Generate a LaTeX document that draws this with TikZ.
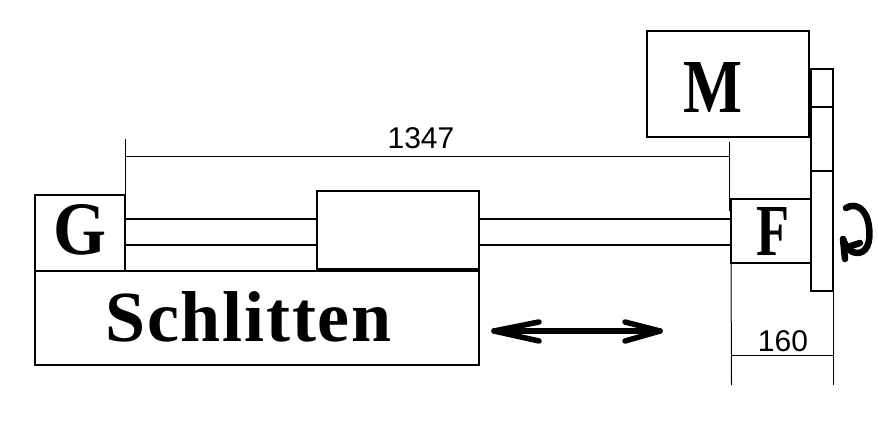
\documentclass[tikz,border=0pt]{standalone}
\usepackage{fontspec}
\setmainfont{Liberation Sans}
\newfontfamily\partfont[LetterSpace=2.5]{Liberation Serif Bold}
\tikzset{
  partbox/.style={draw,line width=2pt,inner sep=0pt,outer sep=0pt},
  partname/.style={inner sep=0pt,font=\fontsize{72}{72}\partfont},
  rodline/.style={line width=2pt},
  dimline/.style={line width=1pt},
  dimtext/.style={inner sep=0pt,font=\fontsize{30}{30}\selectfont},
  handline/.style={line width=5.5pt,line cap=round,line join=round}
}
\begin{document}
\begin{tikzpicture}[x=1pt,y=-1pt]
\useasboundingbox (0,0) rectangle (878,428);
% boxes
\node[partbox,minimum width=162,minimum height=105.5] (motor) at (728,84) {};
\node[partbox,minimum width=22,minimum height=222] (disc) at (822,180) {};
\node[partbox,minimum width=80,minimum height=64] (flansch) at (771,231) {};
\node[partbox,minimum width=90,minimum height=76] (geber) at (80,233) {};
\node[partbox,minimum width=444,minimum height=94] (schlitten) at (257,318) {};
\node[partbox,minimum width=162,minimum height=78] (lager) at (398,229.7) {};
% names
\node[partname] (motorname) at (712.5,87) {\resizebox{59pt}{50pt}{M}};
\node[partname] (flanschname) at (773,231.5) {\resizebox{33pt}{48pt}{F}};
\node[partname] (gebername) at (79.5,230) {\resizebox{53pt}{50pt}{G}};
\node[partname] (schlittenname) at (248.5,317) {Schlitten};
% disc divisions
\draw[rodline] (disc.west |- 0,107) -- (disc.east |- 0,107);
\draw[rodline] (disc.west |- 0,171) -- (disc.east |- 0,171);
% rods
\coordinate (rodtop) at (0,219);
\coordinate (rodbot) at (0,245);
\draw[rodline] (geber.east |- rodtop) -- (lager.west |- rodtop);
\draw[rodline] (geber.east |- rodbot) -- (lager.west |- rodbot);
\draw[rodline] (lager.east |- rodtop) -- (flansch.west |- rodtop);
\draw[rodline] (lager.east |- rodbot) -- (flansch.west |- rodbot);
% dimension 1347
\coordinate (dimleft) at (125,156);
\coordinate (dimright) at (729.5,156);
\draw[dimline] (geber.north east) -- (125,139);
\draw[dimline] (729.5,211) -- (729.5,142);
\draw[dimline] (dimleft) -- (dimright);
\node[dimtext] (length) at (421,138.5) {1347};
% dimension 160
\coordinate (widthleft) at (731.5,355);
\coordinate (widthright) at (833,355);
\draw[dimline] (flansch.south west) -- (731.5,385);
\draw[dimline] (disc.south east) -- (833,385);
\draw[dimline] (widthleft) -- (widthright);
\node[dimtext] (width) at (783,341) {160};
% hand drawn arrows
\coordinate (moveleft) at (494,331);
\coordinate (moveright) at (660,331);
\draw[handline] (moveleft) -- (moveright);
\draw[handline] (539,322) -- (moveleft) -- (539,341);
\draw[handline] (625,322) -- (moveright) -- (625,341);
\draw[handline,line width=6.5pt] (846,208) .. controls (856,202) and (867,209) .. (869,227)
  .. controls (871,244) and (866,253) .. (857,253) .. controls (851,253) and (846,248) .. (843,239);
\draw[handline,line width=6.5pt] (843,239) -- (845,259);
\draw[handline,line width=6.5pt] (845,248) -- (860,243);
\end{tikzpicture}
\end{document}
